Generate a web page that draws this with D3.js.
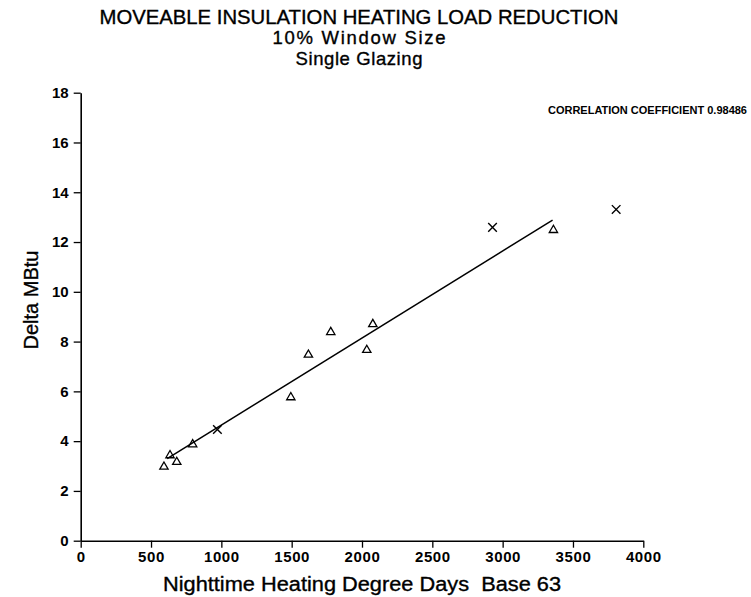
<!DOCTYPE html>
<html>
<head>
<meta charset="utf-8">
<script src="https://cdn.jsdelivr.net/npm/d3@7"></script>
<style>
  body { margin: 0; background: #fff; }
  svg { display: block; font-family: "Liberation Sans", Arial, sans-serif; }
</style>
</head>
<body>
<svg width="751" height="597"></svg>
<script>
// Valores
var triX = [592, 635, 683, 796, 1494, 1619, 1778, 2034, 2077, 3361];
var triY = [2.97, 3.43, 3.16, 3.87, 5.76, 7.47, 8.38, 7.66, 8.70, 12.48];
var crossX = [972, 2928, 3807];
var crossY = [4.47, 12.59, 13.31];
// linha de regressao (pontas)
var fitX = [615, 3355];
var fitY = [3.30, 12.88];
var xTicks = [0, 500, 1000, 1500, 2000, 2500, 3000, 3500, 4000];
var yTicks = [0, 2, 4, 6, 8, 10, 12, 14, 16, 18];
var titleLines = ["MOVEABLE INSULATION HEATING LOAD REDUCTION", "10% Window Size", "Single Glazing"];
var corrText = "CORRELATION COEFFICIENT 0.98486";

var svg = d3.select("svg");

var x = d3.scaleLinear().domain([0, 4000]).range([80.7, 643.3]);
var y = d3.scaleLinear().domain([0, 18]).range([540.7, 92.7]);

// Eixos
var xAxis = svg.append("g")
    .attr("transform", "translate(0," + y(0) + ")")
    .call(d3.axisBottom(x).tickValues(xTicks).tickSize(7).tickSizeOuter(0).tickFormat(d3.format("d")));

var yAxis = svg.append("g")
    .attr("transform", "translate(" + x(0) + ",0)")
    .call(d3.axisLeft(y).tickValues(yTicks).tickSize(7).tickSizeOuter(0).tickFormat(d3.format("d")));

[xAxis, yAxis].forEach(function(a) {
  a.select(".domain").attr("stroke", "#000").attr("stroke-width", 1.6);
  a.selectAll(".tick line").attr("stroke", "#000").attr("stroke-width", 1.3);
  a.selectAll(".tick text")
      .attr("fill", "#000")
      .attr("font-size", 15)
      .attr("font-weight", "bold")
      .attr("font-family", "Liberation Sans, Arial, sans-serif");
});
xAxis.selectAll(".tick text").attr("y", 11).attr("letter-spacing", 0.6);
yAxis.selectAll(".tick text").attr("x", -12);

// Titulos
var titleY = [24.3, 44, 65];
var titleLen = [519, 173, 127];
var titleSize = [20, 18.5, 18.5];
var titleAdjust = ["spacingAndGlyphs", "spacing", "spacing"];
titleLines.forEach(function(t, i) {
  svg.append("text")
      .attr("x", 359)
      .attr("y", titleY[i])
      .attr("text-anchor", "middle")
      .attr("font-size", titleSize[i])
      .attr("textLength", titleLen[i])
      .attr("lengthAdjust", titleAdjust[i])
      .attr("stroke", "#000")
      .attr("stroke-width", 0.35)
      .text(t);
});

svg.append("text")
    .attr("x", 747)
    .attr("y", 114)
    .attr("text-anchor", "end")
    .attr("font-size", 11)
    .attr("font-weight", "bold")
    .text(corrText);

svg.append("text")
    .attr("x", 362)
    .attr("y", 591)
    .attr("text-anchor", "middle")
    .attr("font-size", 20)
    .attr("textLength", 398)
    .attr("lengthAdjust", "spacingAndGlyphs")
    .attr("stroke", "#000")
    .attr("stroke-width", 0.35)
    .style("white-space", "pre")
    .text("Nighttime Heating Degree Days  Base 63");

svg.append("text")
    .attr("transform", "translate(38,300) rotate(-90)")
    .attr("text-anchor", "middle")
    .attr("font-size", 20)
    .attr("stroke", "#000")
    .attr("stroke-width", 0.35)
    .text("Delta MBtu");

// Linha de regressao
var line = d3.line()
    .x(function(d) { return x(d[0]); })
    .y(function(d) { return y(d[1]); });

svg.append("path")
    .datum(d3.zip(fitX, fitY))
    .attr("d", line)
    .attr("fill", "none")
    .attr("stroke", "#000")
    .attr("stroke-width", 1.5);

// Pontos
svg.append("g").selectAll("path")
    .data(d3.zip(triX, triY))
    .enter().append("path")
    .attr("d", d3.symbol().type(d3.symbolTriangle).size(30))
    .attr("transform", function(d) { return "translate(" + x(d[0]) + "," + y(d[1]) + ")"; })
    .attr("fill", "none")
    .attr("stroke", "#000")
    .attr("stroke-width", 1.3);

svg.append("g").selectAll("path")
    .data(d3.zip(crossX, crossY))
    .enter().append("path")
    .attr("d", d3.symbol().type(d3.symbolTimes).size(50))
    .attr("transform", function(d) { return "translate(" + x(d[0]) + "," + y(d[1]) + ")"; })
    .attr("fill", "none")
    .attr("stroke", "#000")
    .attr("stroke-width", 1.4);
</script>
</body>
</html>
